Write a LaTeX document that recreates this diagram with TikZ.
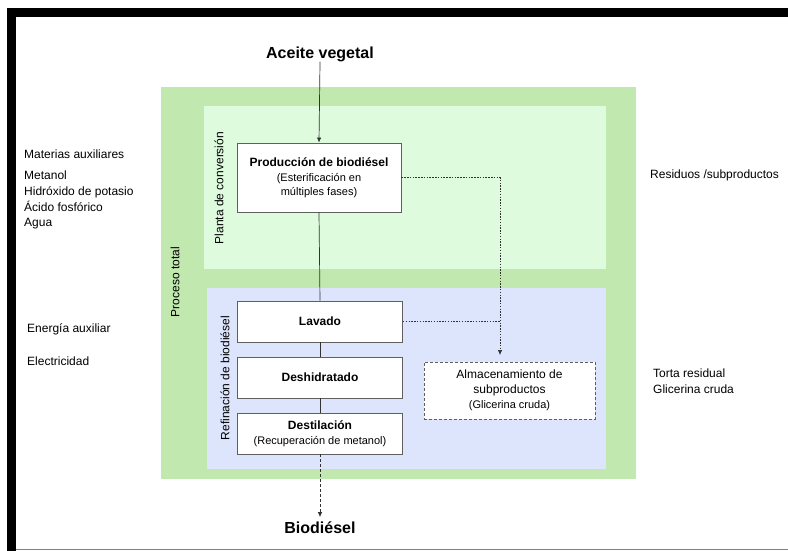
\documentclass[tikz,border=0pt]{standalone}
\usepackage{fontspec}
\setmainfont{Liberation Sans}
\usetikzlibrary{arrows.meta}
\definecolor{procgreen}{RGB}{193,232,174}
\definecolor{plantgreen}{RGB}{222,251,222}
\definecolor{refblue}{RGB}{221,229,253}
\definecolor{boxline}{RGB}{95,95,95}
\definecolor{wire}{RGB}{50,50,50}
\newcommand\subtxt{\fontsize{11}{14}\selectfont}
\begin{document}
\begin{tikzpicture}[x=1pt,y=-1pt,
  sidelbl/.style={anchor=west, inner sep=0pt, font=\fontsize{12}{15.7}\selectfont, align=left},
  grouplbl/.style={inner sep=0pt, rotate=90, font=\fontsize{12}{14}\selectfont},
  bigtxt/.style={inner sep=0pt, anchor=base, font=\fontsize{16}{19}\selectfont\bfseries},
  stepbox/.style={draw=boxline, fill=white, line width=0.8pt, minimum width=165pt,
    minimum height=41pt, align=center, inner sep=0pt, font=\fontsize{12}{14}\selectfont\bfseries},
  storebox/.style={draw=boxline, fill=white, line width=0.8pt, dash pattern=on 3pt off 2pt,
    minimum width=171pt, minimum height=57pt, align=center, inner sep=0pt,
    font=\fontsize{12}{15}\selectfont},
  flow/.style={draw=wire, line width=0.7pt},
  tip/.style={-{Latex[length=5pt,width=4.5pt]}},
  byprod/.style={flow, dash pattern=on 1.5pt off 1.3pt},
  outflow/.style={flow, dash pattern=on 3pt off 2pt},
]
\useasboundingbox (0,0) rectangle (788,551);
\fill[white] (0,0) rectangle (788,551);

% page frame
\fill[black] (7,8) rectangle (788,17);
\fill[black] (7,8) rectangle (16,551);
\draw[gray, line width=1pt] (16,549.5) -- (788,549.5);

% process areas
\fill[procgreen] (161,87) rectangle (636,479);
\fill[plantgreen] (204,106) rectangle (606,269);
\fill[refblue] (207,288) rectangle (606,469);

\node[grouplbl] (gtotal) at (175,282) {Proceso total};
\node[grouplbl] (gplant) at (219,188) {Planta de conversión};
\node[grouplbl] (grefin) at (225,378) {Refinación de biodiésel};

% main inputs and outputs
\node[bigtxt] (av) at (320,59) {Aceite vegetal};
\node[bigtxt] (bio) at (320,533) {Biodiésel};

% process steps
\node[stepbox, minimum width=164pt, minimum height=69pt] (prod) at (319,177.5)
  {Producción de biodiésel\\[1pt]{\subtxt\mdseries (Esterificación en}\\{\subtxt\mdseries múltiples fases)}};
\node[stepbox] (lav) at (320,321.5) {Lavado};
\node[stepbox] (desh) at (320,377.5) {Deshidratado};
\node[stepbox] (dest) at (320,433.5)
  {Destilación\\[1pt]{\subtxt\mdseries (Recuperación de metanol)}};
\node[storebox] (store) at (509.5,390.5)
  {Almacenamiento de\\subproductos\\{\subtxt (Glicerina cruda)}};

% main flow
\draw[flow, tip, shorten <=-1pt] (av.south) -- (prod.north);
\draw[flow] (prod.south) -- (lav.north);
\draw[flow] (lav.south) -- (desh.north);
\draw[flow] (desh.south) -- (dest.north);
\draw[outflow, tip, shorten >=4pt] (dest.south) -- (bio.north);

% by-product routing
\coordinate (bend) at (500,177.5);
\coordinate (drop) at (500,355);
\draw[byprod, tip] (prod.east) -- (bend) -- (drop);
\draw[byprod] (lav.east) -- (lav.east -| bend);

% auxiliary inputs
\node[sidelbl] (mat) at (24,154) {Materias auxiliares};
\node[sidelbl, anchor=north west] (chem) at (24,171)
  {Metanol\\Hidróxido de potasio\\Ácido fosfórico\\Agua};
\node[sidelbl] (ener) at (27,329) {Energía auxiliar};
\node[sidelbl] (elec) at (27,361) {Electricidad};

% residues
\node[sidelbl] (resid) at (650,175) {Residuos /subproductos};
\node[sidelbl, anchor=north west] (torta) at (653,369)
  {Torta residual\\Glicerina cruda};
\end{tikzpicture}
\end{document}
